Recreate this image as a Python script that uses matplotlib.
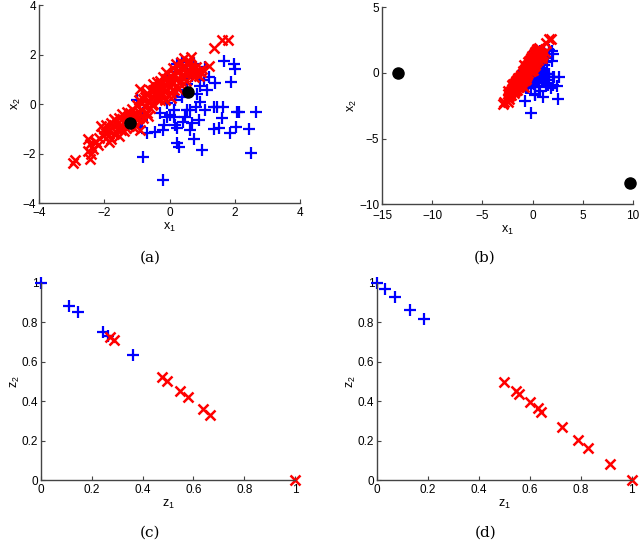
import matplotlib
matplotlib.use('Agg')
import matplotlib.pyplot as plt

# (a)/(b): original 2-d data
red_x1 = [-2.95, -2.9, -2.5, -2.45, -2.4, -2.45, -2.35, -2.3, -2.2, -2.5,
          -2.1, -2.0, -1.95, -1.9, -1.85, -1.8, -1.75, -1.7, -1.65, -1.6,
          -1.55, -1.5, -1.45, -1.4, -1.35, -1.3, -1.25, -1.2, -1.15, -1.1,
          -1.05, -1.0, -0.95, -0.9, -0.9, -0.85, -0.8, -0.75, -0.7, -0.7,
          -0.65, -0.6, -0.6, -0.55, -0.5, -0.5, -0.45, -0.4, -0.4, -0.35,
          -0.3, -0.3, -0.25, -0.2, -0.2, -0.15, -0.1, -0.1, -0.05, 0.0,
          0.0, 0.05, 0.1, 0.1, 0.15, 0.2, 0.2, 0.25, 0.3, 0.3,
          0.35, 0.4, 0.45, 0.45, 0.5, 0.55, 0.6, 0.65, 0.7, 0.75,
          0.8, 0.85, 0.9, 0.95, 1.2, 1.35, 1.6, 1.8, -1.3, -1.1,
          -0.95, -0.75, -0.55, -0.35, -0.15, 0.05, -0.65, -1.7, -2.05, -1.55,
          -2.25, -2.15, -1.95, -1.8, -1.6, -1.45, -1.35, -1.2, -1.0, -0.85,
          -0.8, -0.6, -0.45, -0.3, -0.25, -0.1, 0.05, 0.15, 0.25, 0.35,
          0.4, 0.55, 0.6, 0.7, 0.8, 0.9, 0.5, 0.25, -0.05, -0.4,
          -1.15, -1.5, -1.85, -0.2, 0.0, 0.35, 0.65, 1.0, -0.95, -0.5]
red_x2 = [-2.4, -2.25, -1.4, -1.6, -2.0, -2.2, -1.8, -1.55, -1.65, -1.9,
          -0.9, -1.0, -0.85, -1.3, -1.1, -1.4, -0.95, -1.2, -0.7, -1.0,
          -0.55, -0.85, -0.4, -1.1, -0.65, -0.3, -0.9, -0.5, -0.2, -0.7,
          -0.4, -0.05, -0.55, 0.6, -1.05, -0.25, 0.2, -0.1, 0.45, -0.35,
          0.1, 0.55, -0.15, 0.3, 0.8, 0.0, 0.45, 0.2, 0.7, 0.5,
          0.95, 0.15, 0.65, 0.4, 1.1, 0.8, 0.55, 1.3, 0.95, 0.7,
          1.15, 0.45, 1.45, 0.9, 1.2, 0.75, 1.6, 1.05, 1.35, 0.85,
          1.7, 1.1, 1.85, 1.4, 0.95, 1.6, 1.25, 1.9, 1.45, 1.1,
          1.3, 1.2, 1.35, 1.3, 1.55, 2.25, 2.6, 2.6, -0.8, -0.95,
          -0.3, 0.3, -0.05, 0.3, 0.15, 0.25, -0.5, -0.6, -1.25, -1.3,
          -1.55, -1.35, -1.15, -0.75, -0.8, -0.6, -0.95, -0.35, -0.6, 0.05,
          -0.55, 0.25, 0.6, 0.4, 0.85, 1.0, 0.95, 0.55, 1.35, 1.15,
          1.55, 1.3, 1.75, 1.25, 1.5, 1.15, 1.25, 0.6, 0.35, 0.9,
          -0.45, -1.05, -1.55, 0.7, 0.95, 0.95, 1.55, 1.4, 0.15, 0.55]

blue_x1 = [1.68, 1.96, 2.01, 1.89, 1.09, 1.04, 1.40, 1.14, 0.94, 0.84,
           1.45, 1.65, 1.60, 2.06, 2.14, 2.66, 2.04, 2.42, 2.49, 1.86,
           1.35, 1.50, 0.94, 0.82, 0.63, 0.48, 0.41, 0.68, 0.89, 0.63,
           0.74, 0.99, 0.22, 0.28, 0.22, 0.12, 0.02, -0.08, -0.18, -0.20,
           -0.44, -0.80, -0.20, -0.69, -0.90, -0.85, -0.80, -1.00, -0.29, -0.08,
           0.17, 0.22, 0.38, 0.53, 0.68, 0.53, 0.22, 0.38, 0.17, -0.08,
           0.74, 0.12, 0.94, 1.20, 1.35, 1.09, 0.53, 0.17]
blue_x2 = [1.73, 1.64, 1.40, 0.90, 1.50, 0.97, 0.86, 0.56, 0.73, 0.39,
           -0.11, -0.11, -0.58, -0.31, -0.31, -0.31, -0.91, -1.01, -1.99, -1.16,
           -1.02, -0.95, 0.09, -0.11, -0.24, -0.51, -0.71, -0.78, -0.65, -1.05,
           -1.42, -1.85, -1.59, -1.72, -0.98, -0.51, -0.44, -0.54, -0.85, -1.05,
           -1.14, -2.12, -3.06, -1.16, -0.91, -0.65, -0.38, 0.16, -0.35, 0.03,
           0.16, 0.56, 0.30, 0.83, 1.13, 1.37, 1.64, 1.71, 1.30, 0.97,
           1.64, -0.24, 1.17, 1.10, -0.11, -0.24, -0.24, -0.85]

centers_a_x1 = [-1.2, 0.55]
centers_a_x2 = [-0.75, 0.5]
centers_b_x1 = [-13.4, 9.7]
centers_b_x2 = [0.0, -8.4]

# (c): projected points
c_blue_z1 = [0.0, 0.109, 0.145, 0.246, 0.262, 0.364]
c_blue_z2 = [1.0, 0.885, 0.853, 0.749, 0.732, 0.634]
c_red_z1 = [0.27, 0.286, 0.476, 0.498, 0.548, 0.58, 0.636, 0.666, 1.0]
c_red_z2 = [0.725, 0.712, 0.525, 0.5, 0.454, 0.42, 0.359, 0.332, 0.0]

# (d)
d_blue_z1 = [0.0, 0.033, 0.072, 0.131, 0.183]
d_blue_z2 = [1.0, 0.97, 0.927, 0.864, 0.817]
d_red_z1 = [0.497, 0.546, 0.559, 0.599, 0.634, 0.644, 0.725, 0.791, 0.830, 0.915, 1.0]
d_red_z2 = [0.497, 0.453, 0.437, 0.395, 0.364, 0.344, 0.271, 0.203, 0.161, 0.081, 0.0]

plt.rcParams['font.family'] = ['Liberation Sans', 'DejaVu Sans']
plt.rcParams['mathtext.fontset'] = 'custom'
plt.rcParams['mathtext.rm'] = 'Liberation Sans'
plt.rcParams['mathtext.it'] = 'Liberation Sans'

fig = plt.figure(figsize=(6.4, 5.43), dpi=100)

def style(ax, xpad=3):
    for s in ['top', 'right']:
        ax.spines[s].set_visible(False)
    for s in ['left', 'bottom']:
        ax.spines[s].set_color('#444444')
        ax.spines[s].set_linewidth(1.0)
    ax.tick_params(direction='in', length=3, width=0.8, color='#444444',
                   labelsize=8.5)
    ax.tick_params(axis='x', pad=xpad)
    ax.tick_params(axis='y', pad=2)

def scatter2(ax, bx, by, rx, ry):
    ax.plot(bx, by, '+', color='#0000ff', ms=8, mew=1.6, ls='none', clip_on=False)
    ax.plot(rx, ry, 'x', color='#ff0000', ms=7, mew=1.8, ls='none', clip_on=False)

# (a)
ax = fig.add_axes([0.061, 0.626, 0.408, 0.3646])
scatter2(ax, blue_x1, blue_x2, red_x1, red_x2)
ax.plot(centers_a_x1, centers_a_x2, 'o', color='black', ms=8, ls='none')
ax.set_xlim(-4, 4)
ax.set_ylim(-4, 4)
ax.set_xticks([-4, -2, 0, 2, 4])
ax.set_yticks([-4, -2, 0, 2, 4])
ax.set_xticklabels(['\u22124', '\u22122', '0', '2', '4'])
ax.set_yticklabels(['\u22124', '\u22122', '0', '2', '4'])
ax.set_xlabel(r'x$_1$', fontsize=9, labelpad=1)
ax.set_ylabel(r'x$_2$', fontsize=9, labelpad=0)
style(ax)

# (b)
ax = fig.add_axes([0.597, 0.624, 0.392, 0.3628])
scatter2(ax, blue_x1, blue_x2, red_x1, red_x2)
ax.plot(centers_b_x1, centers_b_x2, 'o', color='black', ms=8, ls='none', clip_on=False)
ax.set_xlim(-15, 10)
ax.set_ylim(-10, 5)
ax.set_xticks([-15, -10, -5, 0, 5, 10])
ax.set_yticks([-10, -5, 0, 5])
ax.set_xticklabels(['\u221215', '\u221210', '\u22125', '0', '5', '10'])
ax.set_yticklabels(['\u221210', '\u22125', '0', '5'])
ax.set_xlabel(r'x$_1$', fontsize=9, labelpad=1)
ax.set_ylabel(r'x$_2$', fontsize=9, labelpad=0)
style(ax, xpad=4.5)

zt = [0, 0.2, 0.4, 0.6, 0.8, 1]
zl = ['0', '0.2', '0.4', '0.6', '0.8', '1']

# (c)
ax = fig.add_axes([0.064, 0.116, 0.397, 0.363])
scatter2(ax, c_blue_z1, c_blue_z2, c_red_z1, c_red_z2)
ax.set_xlim(0, 1)
ax.set_ylim(0, 1)
ax.set_xticks(zt)
ax.set_xticklabels(zl)
ax.set_yticks(zt)
ax.set_yticklabels(zl)
ax.set_xlabel(r'z$_1$', fontsize=9, labelpad=1)
ax.set_ylabel(r'z$_2$', fontsize=9, labelpad=0)
style(ax)

# (d)
ax = fig.add_axes([0.589, 0.116, 0.398, 0.363])
scatter2(ax, d_blue_z1, d_blue_z2, d_red_z1, d_red_z2)
ax.set_xlim(0, 1)
ax.set_ylim(0, 1)
ax.set_xticks(zt)
ax.set_xticklabels(zl)
ax.set_yticks(zt)
ax.set_yticklabels(zl)
ax.set_xlabel(r'z$_1$', fontsize=9, labelpad=1)
ax.set_ylabel(r'z$_2$', fontsize=9, labelpad=0)
style(ax)

for lab, x, y in [('(a)', 150, 258), ('(b)', 485, 258), ('(c)', 150, 533), ('(d)', 486, 533)]:
    fig.text(x / 640, 1 - y / 543, lab, ha='center', va='center', fontsize=11,
             family=['DejaVu Serif'])

fig.savefig('out.png', dpi=100)
